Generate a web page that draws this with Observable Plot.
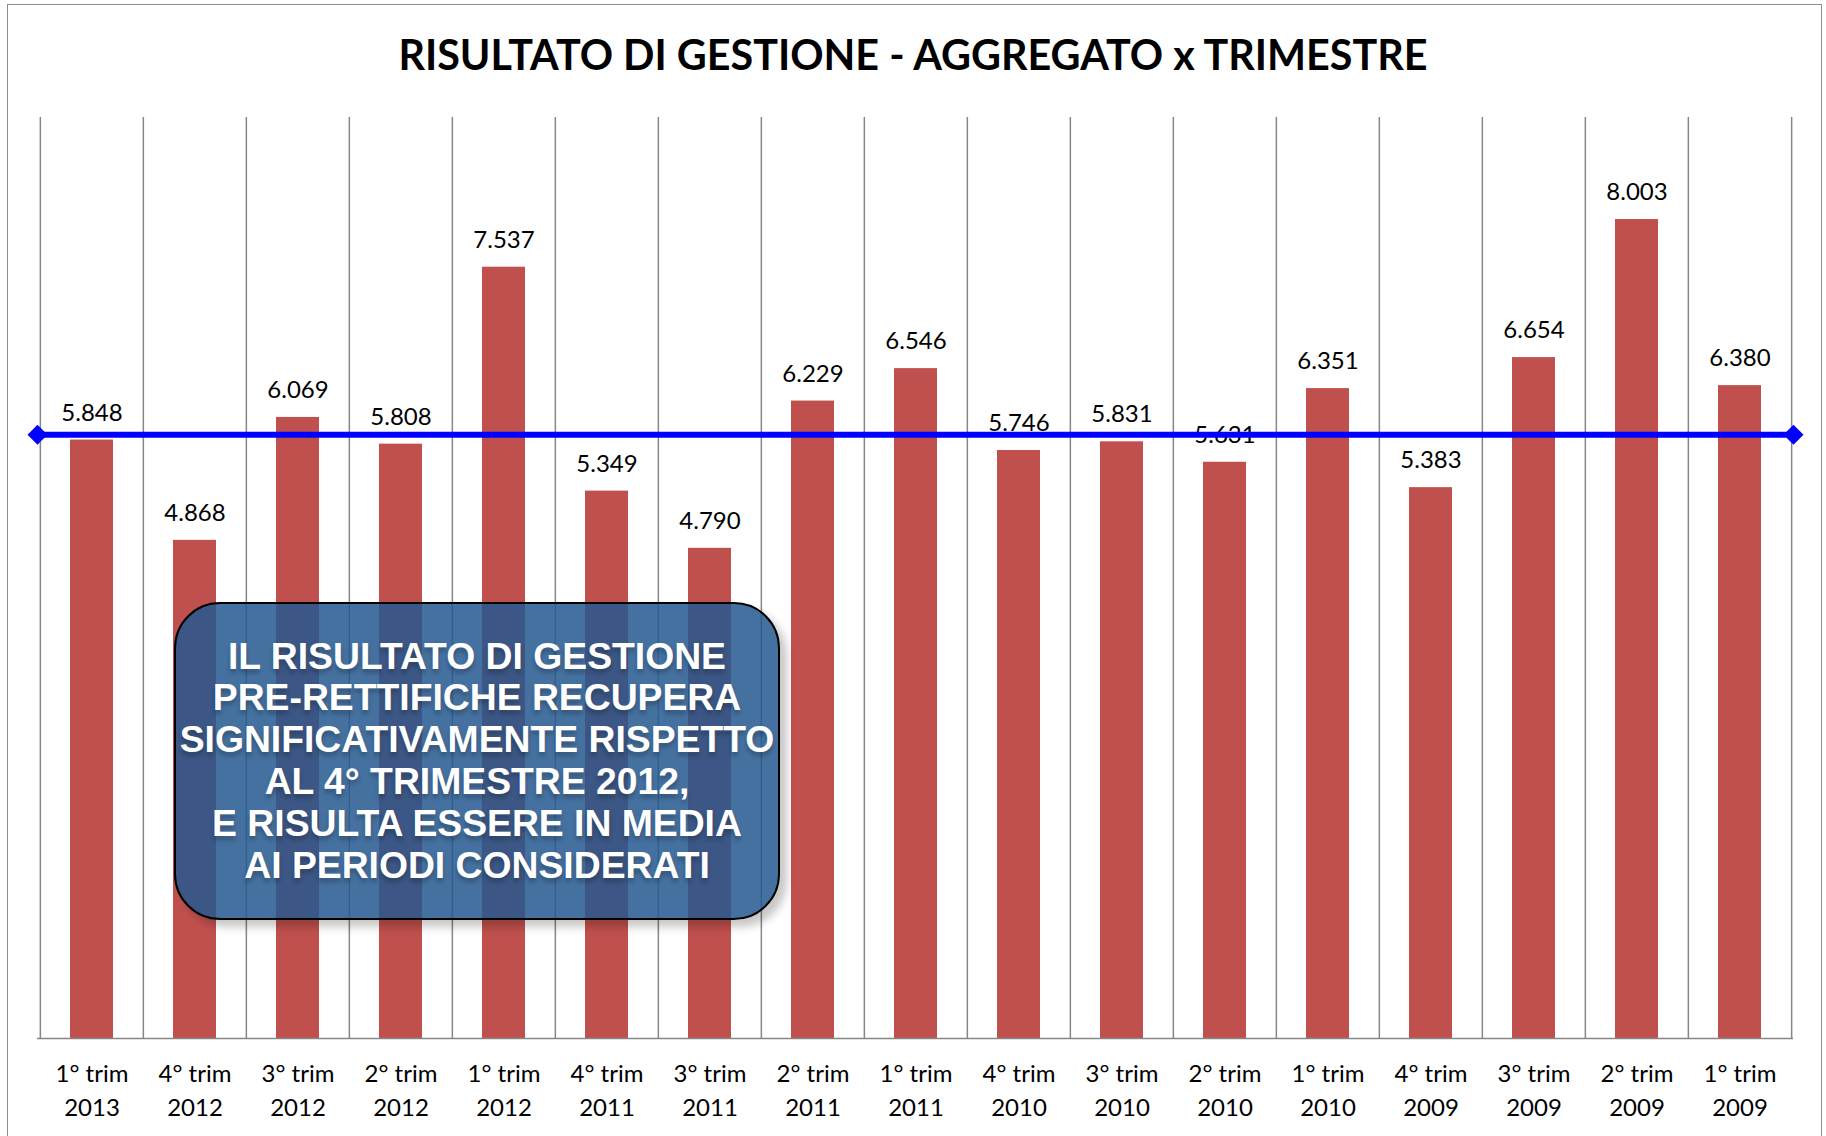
<!DOCTYPE html>
<html>
<head>
<meta charset="utf-8">
<script src="https://cdn.jsdelivr.net/npm/d3@7"></script>
<script src="https://cdn.jsdelivr.net/npm/@observablehq/plot@0.6"></script>
<style>
html, body { margin: 0; padding: 0; background: #fff; overflow: hidden; }
#wrap { position: relative; width: 1826px; height: 1136px; overflow: hidden; background: #fff; }
#frame { position: absolute; left: 7px; top: 4px; width: 1815px; height: 1200px; border: 1.5px solid #8c8c8c; box-sizing: border-box; pointer-events: none; }
#title { position: absolute; left: 0; top: 0; width: 1826px; height: 100px; box-sizing: border-box; padding-top: 33px; text-align: center; font: 700 41.3px/42px Lato, sans-serif; color: #000; white-space: nowrap; }
#chart { position: absolute; left: 0; top: 100px; }
#note { position: absolute; left: 174px; top: 602px; width: 606px; height: 318px; box-sizing: border-box; border: 2px solid #000; border-radius: 46px; background: rgba(36, 88, 143, 0.85); box-shadow: 7px 7px 9px rgba(0,0,0,0.22); display: flex; align-items: center; justify-content: center; text-align: center; color: #fff; font: 700 37.3px/41.8px "Liberation Sans", Arial, sans-serif; text-shadow: 0 4px 4px rgba(0,0,0,0.25); white-space: nowrap; }
</style>
</head>
<body>
<div id="wrap">
  <div id="title"></div>
  <div id="chart"></div>
  <div id="note"></div>
  <div id="frame"></div>
</div>
<script>
// ---- data ----
const chartTitle = "RISULTATO DI GESTIONE - AGGREGATO x TRIMESTRE";
const quarters = ["1° trim","4° trim","3° trim","2° trim","1° trim","4° trim","3° trim","2° trim","1° trim","4° trim","3° trim","2° trim","1° trim","4° trim","3° trim","2° trim","1° trim"];
const years = ["2013","2012","2012","2012","2012","2011","2011","2011","2011","2010","2010","2010","2010","2009","2009","2009","2009"];
const values = [5848, 4868, 6069, 5808, 7537, 5349, 4790, 6229, 6546, 5746, 5831, 5631, 6351, 5383, 6654, 8003, 6380];
const referenceLine = 5900;
const yMax = 9000;
const noteLines = [
  "IL RISULTATO DI GESTIONE",
  "PRE-RETTIFICHE RECUPERA",
  "SIGNIFICATIVAMENTE RISPETTO",
  "AL 4° TRIMESTRE 2012,",
  "E RISULTA ESSERE IN MEDIA",
  "AI PERIODI CONSIDERATI"
];

// ---- build ----
const cats = quarters.map((q, i) => q + "\n" + years[i]);
const data = cats.map((c, i) => ({cat: c, value: values[i]}));
const it = d3.formatLocale({decimal: ",", thousands: ".", grouping: [3], currency: ["€", ""]});
const fmt = it.format(",d");

document.getElementById("title").textContent = chartTitle;
const note = document.getElementById("note");
note.innerHTML = "<div>" + noteLines.map(s => s.replace(/&/g, "&amp;")).join("<br>") + "</div>";

const W = 1826, H = 1036, mL = 37, mR = 33, mT = 17, mB = 98;
const band = (W - mL - mR) / cats.length;
const grid = {stroke: "#878787", strokeWidth: 1.5};

const chart = Plot.plot({
  width: W,
  height: H,
  marginLeft: mL,
  marginRight: mR,
  marginTop: mT,
  marginBottom: mB,
  style: {fontFamily: "Lato, sans-serif", fontSize: "24px", color: "#000", background: "transparent", overflow: "visible"},
  x: {domain: cats, padding: 0, label: null},
  y: {domain: [0, yMax], axis: null},
  marks: [
    Plot.ruleX(cats, {x: d => d, y1: 0, y2: yMax, dx: -band / 2, ...grid}),
    Plot.ruleX([cats[cats.length - 1]], {x: d => d, y1: 0, y2: yMax, dx: band / 2, ...grid}),
    Plot.barY(data, {x: "cat", y: "value", fill: "#C0504D", insetLeft: 30, insetRight: 30}),
    Plot.text(data, {x: "cat", y: "value", text: d => fmt(d.value), dy: -27, fontSize: 24, fill: "#000"}),
    Plot.ruleY([0], grid),
    Plot.ruleY([referenceLine], {stroke: "#0000ff", strokeWidth: 6}),
    Plot.dot([referenceLine], {y: d => d, frameAnchor: "left", symbol: "diamond2", r: 9, fill: "#0000ff", stroke: "none"}),
    Plot.dot([referenceLine], {y: d => d, frameAnchor: "right", symbol: "diamond2", r: 9, fill: "#0000ff", stroke: "none"}),
    Plot.axisX({tickSize: 0, tickPadding: 20, fontSize: 24, lineHeight: 1.4, tickFormat: d => d, label: null})
  ]
});
document.getElementById("chart").appendChild(chart);
</script>
</body>
</html>
